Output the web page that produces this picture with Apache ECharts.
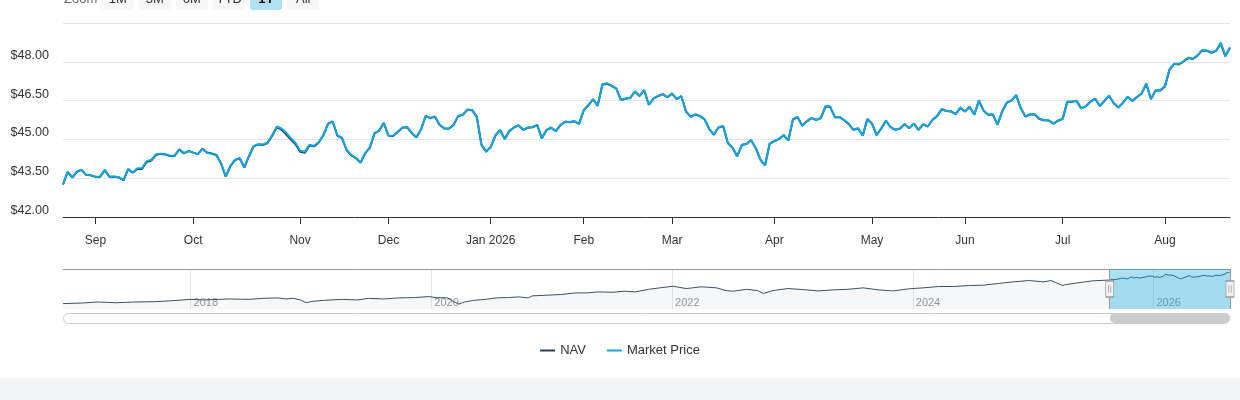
<!DOCTYPE html>
<html>
<head>
<meta charset="utf-8">
<script src="https://cdn.jsdelivr.net/npm/echarts@6.0.0/dist/echarts.min.js"></script>
<style>
html,body{margin:0;padding:0;background:#f3f4f6;}
#chart{width:1240px;height:378px;background:#ffffff;}
</style>
</head>
<body>
<div id="chart"></div>
<script>
// ---------- data ----------
const seriesNames = ['NAV', 'Market Price'];

const marketPrice = [
43.27,43.76,43.53,43.76,43.83,43.63,43.62,43.56,43.57,43.83,43.56,43.57,43.54,43.43,43.86,43.72,43.88,43.89,44.16,44.21,
44.43,44.45,44.43,44.37,44.37,44.63,44.47,44.56,44.49,44.42,44.63,44.47,44.44,44.38,44.06,43.57,43.98,44.21,44.28,43.92,
44.37,44.75,44.81,44.80,44.88,45.17,45.50,45.42,45.26,45.05,44.87,44.57,44.52,44.79,44.75,44.89,45.17,45.60,45.69,45.17,
45.07,44.60,44.40,44.29,44.11,44.47,44.69,45.24,45.34,45.64,45.14,45.14,45.30,45.46,45.48,45.26,45.08,45.39,45.91,45.83,
45.89,45.57,45.43,45.42,45.57,45.91,45.96,46.16,46.14,45.88,44.79,44.51,44.70,45.16,45.37,45.01,45.33,45.47,45.55,45.37,
45.46,45.48,45.56,45.03,45.37,45.46,45.32,45.56,45.69,45.66,45.71,45.60,46.14,46.33,46.56,46.29,47.13,47.17,47.08,46.97,
46.52,46.58,46.61,46.86,46.68,46.91,46.33,46.59,46.68,46.76,46.63,46.78,46.55,46.68,46.07,45.88,45.97,45.91,45.78,45.39,
45.19,45.47,45.52,44.85,44.69,44.34,44.79,44.83,44.98,44.66,44.21,43.99,44.85,44.94,45.02,45.17,44.96,45.79,45.87,45.53,
45.71,45.83,45.75,45.83,46.29,46.27,45.86,45.87,45.75,45.60,45.37,45.43,45.14,45.80,45.62,45.16,45.43,45.73,45.47,45.37,
45.42,45.60,45.43,45.62,45.37,45.59,45.50,45.76,45.91,46.18,46.10,46.09,45.98,46.24,46.08,46.27,45.95,46.52,46.11,45.95,
45.97,45.56,46.10,46.43,46.51,46.72,46.21,45.88,45.98,45.97,45.80,45.75,45.74,45.61,45.73,45.80,46.47,46.47,46.49,46.20,
46.29,46.47,46.58,46.29,46.50,46.70,46.40,46.23,46.43,46.65,46.49,46.65,46.78,47.17,46.55,46.90,46.90,47.06,47.72,47.93,
47.91,48.02,48.16,48.12,48.25,48.45,48.44,48.36,48.43,48.74,48.20,48.56
];

const nav = [
43.25,43.74,43.52,43.75,43.82,43.62,43.61,43.55,43.56,43.81,43.55,43.56,43.53,43.42,43.84,43.71,43.86,43.86,44.12,44.18,
44.40,44.44,44.42,44.36,44.36,44.61,44.46,44.55,44.49,44.43,44.64,44.49,44.46,44.40,44.07,43.56,43.97,44.20,44.27,43.91,
44.35,44.73,44.80,44.78,44.86,45.14,45.47,45.37,45.20,44.99,44.81,44.52,44.48,44.76,44.73,44.88,45.16,45.60,45.70,45.15,
45.05,44.58,44.38,44.28,44.10,44.46,44.68,45.23,45.33,45.63,45.14,45.13,45.29,45.45,45.47,45.25,45.07,45.38,45.90,45.82,
45.88,45.56,45.42,45.41,45.56,45.90,45.95,46.15,46.13,45.87,44.80,44.53,44.71,45.15,45.36,45.02,45.32,45.46,45.54,45.37,
45.45,45.47,45.55,45.04,45.36,45.45,45.32,45.55,45.68,45.66,45.70,45.60,46.12,46.32,46.55,46.30,47.11,47.15,47.07,46.96,
46.53,46.57,46.60,46.85,46.68,46.90,46.34,46.58,46.67,46.75,46.63,46.77,46.56,46.67,46.08,45.87,45.96,45.90,45.77,45.40,
45.18,45.46,45.51,44.86,44.68,44.35,44.78,44.82,44.97,44.67,44.22,44.00,44.83,44.93,45.01,45.16,44.96,45.77,45.86,45.53,
45.70,45.82,45.75,45.82,46.27,46.26,45.86,45.86,45.74,45.59,45.37,45.42,45.15,45.78,45.61,45.17,45.42,45.72,45.47,45.37,
45.41,45.59,45.43,45.61,45.37,45.58,45.50,45.75,45.90,46.16,46.10,46.08,45.98,46.22,46.08,46.25,45.96,46.49,46.11,45.95,
45.96,45.57,46.08,46.42,46.50,46.70,46.21,45.88,45.97,45.96,45.79,45.74,45.73,45.61,45.72,45.79,46.45,46.46,46.48,46.20,
46.28,46.46,46.57,46.29,46.49,46.68,46.40,46.23,46.42,46.64,46.49,46.64,46.77,47.14,46.56,46.89,46.89,47.04,47.70,47.92,
47.90,48.01,48.15,48.11,48.24,48.44,48.43,48.35,48.42,48.71,48.22,48.54
];

const firstTradingDay = '2025-08-21';
const marketHolidays = ['2025-09-01','2025-11-27','2025-12-25','2026-01-01','2026-01-19','2026-02-16',
  '2026-04-03','2026-05-25','2026-06-19','2026-07-03'];

const historyDates = ['2016-12-10','2017-02-07','2017-03-25','2017-05-21','2017-07-17','2017-09-12','2017-11-08','2017-12-30',
'2018-02-08','2018-03-25','2018-04-29','2018-06-25','2018-08-09','2018-09-24','2018-10-17','2018-11-09','2018-12-01','2018-12-18',
'2019-01-04','2019-02-08','2019-04-06','2019-05-22','2019-06-25','2019-08-10','2019-09-24','2019-11-09','2019-12-25',
'2020-01-16','2020-02-20','2020-03-08','2020-03-25','2020-04-11','2020-05-09','2020-06-13','2020-07-17','2020-08-20','2020-09-23','2020-10-22','2020-11-03','2020-12-12',
'2021-01-27','2021-03-14','2021-04-17','2021-05-21','2021-07-06','2021-08-09','2021-09-12','2021-10-22','2021-11-25',
'2022-01-04','2022-02-13','2022-03-31','2022-05-16','2022-06-13','2022-07-06','2022-08-15','2022-09-18','2022-10-05','2022-11-03','2022-12-19',
'2023-02-02','2023-03-20','2023-05-04','2023-06-19','2023-08-04','2023-09-19','2023-11-03','2023-12-19',
'2024-02-02','2024-03-19','2024-05-04','2024-06-19','2024-08-03','2024-09-18','2024-11-02','2024-12-18',
'2025-02-02','2025-02-24','2025-03-31','2025-04-11','2025-05-16','2025-06-30'];
const historyNav = [27.1,27.5,28.2,27.7,28.2,28.4,29.1,30.0,
29.6,30.0,30.3,30.0,30.7,31.0,30.3,30.7,29.6,27.7,
28.6,29.3,30.0,29.6,30.7,30.3,31.0,31.2,31.9,
31.2,31.0,28.6,26.8,28.2,29.3,30.0,31.0,31.2,31.7,31.0,32.4,32.8,
33.3,34.4,34.4,35.1,34.9,35.6,35.1,36.9,37.9,
39.0,37.4,38.6,37.9,36.0,35.6,36.9,36.0,34.0,36.0,37.4,
36.7,35.8,36.5,36.9,37.9,36.5,35.8,37.2,
37.9,38.8,38.8,39.5,39.7,40.9,42.0,42.9,
42.0,42.9,39.5,40.2,41.3,42.7];

const yTickValues = [42, 43.5, 45, 46.5, 48, 49.5];
const monthNames = ['Jan','Feb','Mar','Apr','May','Jun','Jul','Aug','Sep','Oct','Nov','Dec'];
const zoomButtons = ['1M','3M','6M','YTD','1Y','All'];
const selectedZoom = '1Y';
const navigatorYRange = [23.4, 50.8];

// ---------- helpers ----------
function buildTradingDays(start, count, holidays) {
  const out = [];
  const p = start.split('-').map(Number);
  let t = Date.UTC(p[0], p[1] - 1, p[2]);
  while (out.length < count) {
    const d = new Date(t);
    const s = d.toISOString().slice(0, 10);
    const wd = d.getUTCDay();
    if (wd !== 0 && wd !== 6 && holidays.indexOf(s) < 0) out.push(s);
    t += 86400000;
  }
  return out;
}
function yearFraction(s) {
  const p = s.split('-').map(Number);
  const t = Date.UTC(p[0], p[1] - 1, p[2]), a = Date.UTC(p[0], 0, 1), b = Date.UTC(p[0] + 1, 0, 1);
  return p[0] + (t - a) / (b - a);
}

const tradingDays = buildTradingDays(firstTradingDay, marketPrice.length, marketHolidays);
const lastDay = tradingDays[tradingDays.length - 1];
const navigatorData = historyDates.map((d, i) => [d, historyNav[i]])
  .concat(tradingDays.map((d, i) => [d, nav[i]]));
const firstNavDate = navigatorData[0][0];
const navMid = (navigatorYRange[0] + navigatorYRange[1]) / 2;

function isMonthStart(idx) {
  return idx > 0 && tradingDays[idx].slice(0, 7) !== tradingDays[idx - 1].slice(0, 7);
}

const FONT = "'Liberation Sans', Arial, Helvetica, sans-serif";

// range selector buttons (UI)
const graphicEls = [{
  type: 'text', x: 64, y: -1,
  style: { text: 'Zoom', fontSize: 13, fontFamily: FONT, fill: '#666666', verticalAlign: 'middle' }
}];
zoomButtons.forEach((b, i) => {
  const x = 101.7 + i * 37.1;
  const sel = b === selectedZoom;
  graphicEls.push({ type: 'rect', shape: { x: x, y: -12, width: 32, height: 22, r: 2 },
    style: { fill: sel ? '#b0e2f7' : '#f7f7f7' } });
  graphicEls.push({ type: 'text', x: x + 16, y: -1,
    style: { text: b, align: 'center', verticalAlign: 'middle', fontSize: 13, fontFamily: FONT,
      fontWeight: sel ? 'bold' : 'normal', fill: sel ? '#000000' : '#333333' } });
});
// scrollbar track (UI)
graphicEls.push({ type: 'rect', z: -1, shape: { x: 63.5, y: 313.5, width: 1166, height: 10, r: 5 },
  style: { fill: '#ffffff', stroke: '#cccccc', lineWidth: 1 } });

const chart = echarts.init(document.getElementById('chart'));
chart.setOption({
  animation: false,
  textStyle: { fontFamily: FONT },
  graphic: graphicEls,
  legend: {
    data: seriesNames, left: 'center', top: 344, padding: 0,
    icon: 'rect', itemWidth: 15, itemHeight: 2, itemGap: 21,
    textStyle: { fontSize: 13, color: '#333333', fontFamily: FONT }
  },
  grid: [
    { left: 63, right: 10, top: 23, height: 194 },
    { left: 63, right: 10, top: 269, height: 40 },
    { left: 63, right: 10, top: 313, height: 10 }
  ],
  xAxis: [
    {
      type: 'category', gridIndex: 0, data: tradingDays, boundaryGap: false,
      axisLine: { lineStyle: { color: '#333333', width: 1 } },
      axisTick: { show: true, interval: isMonthStart, length: 7, lineStyle: { color: '#333333' } },
      axisLabel: {
        interval: isMonthStart, color: '#333333', fontSize: 12, margin: 18, fontFamily: FONT,
        formatter: function (v) {
          const m = +v.slice(5, 7) - 1;
          return m === 0 ? monthNames[m] + ' ' + v.slice(0, 4) : monthNames[m];
        }
      },
      splitLine: { show: false }
    },
    {
      type: 'time', gridIndex: 1, position: 'top', min: 'dataMin', max: 'dataMax',
      axisLine: { show: true, lineStyle: { color: '#999999', width: 1 } },
      axisTick: { show: false }, axisLabel: { show: false }, splitLine: { show: false }
    },
    {
      type: 'value', gridIndex: 1, position: 'bottom',
      min: yearFraction(firstNavDate), max: yearFraction(lastDay),
      axisLine: { show: false }, axisTick: { show: false },
      splitLine: { show: true, showMinLine: false, showMaxLine: false, lineStyle: { color: '#e6e6e6' } },
      axisLabel: {
        inside: true, align: 'left', verticalAlign: 'bottom', margin: 1, padding: [0, 0, 0, 3],
        color: '#999999', fontSize: 11, fontFamily: FONT, showMinLabel: false, showMaxLabel: false,
        formatter: v => Math.abs(v - Math.round(v)) < 1e-6 ? String(Math.round(v)) : ''
      }
    },
    { type: 'time', gridIndex: 2, min: firstNavDate, max: lastDay, show: false }
  ],
  yAxis: [
    {
      type: 'value', gridIndex: 0, min: yTickValues[0], max: yTickValues[yTickValues.length - 1],
      interval: yTickValues[1] - yTickValues[0],
      axisLine: { show: false }, axisTick: { show: false },
      splitLine: { lineStyle: { color: '#e6e6e6' } },
      axisLabel: {
        formatter: v => '$' + v.toFixed(2), showMaxLabel: false, color: '#333333',
        fontSize: 12.6, margin: 14, verticalAlign: 'bottom', fontFamily: FONT
      }
    },
    { type: 'value', gridIndex: 1, min: navigatorYRange[0], max: navigatorYRange[1], show: false },
    { type: 'value', gridIndex: 2, min: 0, max: 1, show: false }
  ],
  series: [
    {
      name: seriesNames[0], type: 'line', xAxisIndex: 0, yAxisIndex: 0, data: nav,
      showSymbol: false, symbol: 'none', z: 3,
      lineStyle: { width: 2, color: '#2c3e50' }, itemStyle: { color: '#2c3e50' }
    },
    {
      name: seriesNames[1], type: 'line', xAxisIndex: 0, yAxisIndex: 0, data: marketPrice,
      showSymbol: false, symbol: 'none', z: 4,
      lineStyle: { width: 2, color: '#13a5e0' }, itemStyle: { color: '#13a5e0' }
    },
    {
      name: 'navigator', type: 'line', xAxisIndex: 1, yAxisIndex: 1, data: navigatorData,
      showSymbol: false, symbol: 'none', silent: true,
      lineStyle: { width: 1, color: '#3d4f61' },
      areaStyle: { color: 'rgba(40,60,90,0.06)', origin: 'start' },
      markArea: {
        silent: true, z: 10,
        itemStyle: { color: 'rgba(0,160,225,0.33)', borderWidth: 0 },
        data: [[{ xAxis: tradingDays[0] }, { xAxis: lastDay }]]
      },
      markLine: {
        silent: true, z: 12, symbol: ['none', 'none'], label: { show: false },
        lineStyle: { color: '#999999', width: 1, type: 'solid' },
        data: [{ xAxis: tradingDays[0] }, { xAxis: lastDay }]
      },
      markPoint: {
        silent: true, z: 13,
        symbol: 'path://M0,0H7V15H0Z M2.5,4V11 M4.5,4V11', symbolSize: [8, 16],
        itemStyle: { color: '#f2f2f2', borderColor: '#999999', borderWidth: 1 },
        label: { show: false },
        data: [{ coord: [tradingDays[0], navMid] }, { coord: [lastDay, navMid] }]
      }
    },
    {
      name: 'scrollbar', type: 'custom', xAxisIndex: 3, yAxisIndex: 2, silent: true,
      dimensions: [{ name: 'from', type: 'time' }, { name: 'to', type: 'time' }],
      encode: { x: [0, 1] },
      data: [[tradingDays[0], lastDay]],
      renderItem: function (params, api) {
        const a = api.coord([api.value(0), 0]);
        const b = api.coord([api.value(1), 0]);
        const cs = params.coordSys;
        return { type: 'rect', shape: { x: a[0], y: cs.y, width: b[0] - a[0], height: cs.height, r: 5 },
          style: { fill: '#cccccc' } };
      }
    }
  ]
});
</script>
</body>
</html>
